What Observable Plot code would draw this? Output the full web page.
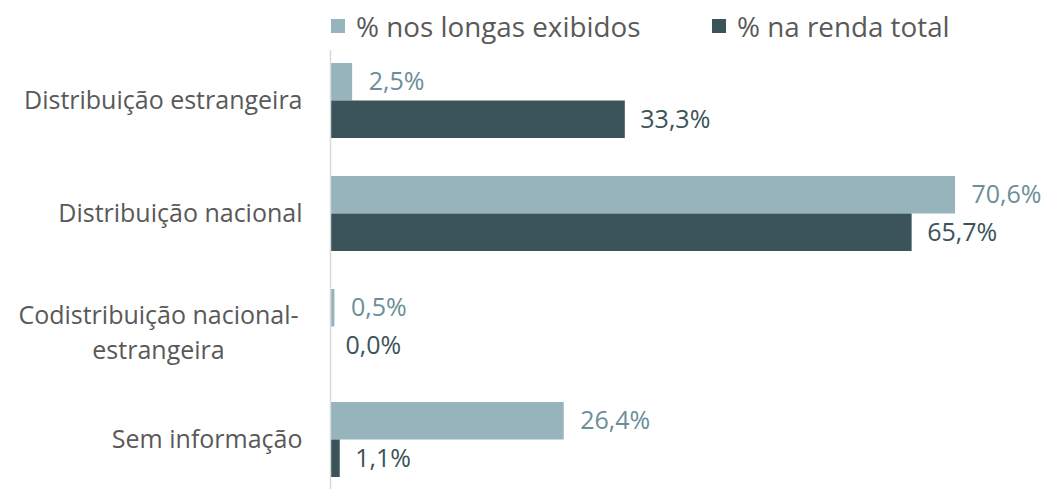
<!DOCTYPE html>
<html>
<head>
<meta charset="utf-8">
<script src="https://cdn.jsdelivr.net/npm/d3@7"></script>
<script src="https://cdn.jsdelivr.net/npm/@observablehq/plot@0.6"></script>
<style>
  html, body { margin: 0; padding: 0; background: #fff; }
  body { width: 1046px; height: 489px; overflow: hidden; font-family: "Open Sans", sans-serif; position: relative; }
  #legend { height: 48px; position: relative; color: #595959; font-size: 27.8px; }
  .item { display: flex; align-items: center; position: absolute; top: 6px; height: 40px; }
  .sw { width: 14px; height: 14px; display: inline-block; margin-right: 11px; }
  #chart svg { display: block; }
</style>
</head>
<body>
<div id="legend"></div>
<div id="chart"></div>
<script>
const categories = ["Distribuição estrangeira", "Distribuição nacional", "Codistribuição nacional-estrangeira", "Sem informação"];
const categoryLabels = ["Distribuição estrangeira", "Distribuição nacional", "Codistribuição nacional-\nestrangeira", "Sem informação"];
const seriesNames = ["% nos longas exibidos", "% na renda total"];
const longasExibidos = [2.5, 70.6, 0.5, 26.4];
const rendaTotal = [33.3, 65.7, 0.0, 1.1];
const barColors = ["#97b4bd", "#3b5459"];
const labelColors = ["#6b8f98", "#3b5459"];

const fmt = v => v.toFixed(1).replace(".", ",") + "%";

const light = categories.map((c, i) => ({category: c, value: longasExibidos[i]}));
const dark = categories.map((c, i) => ({category: c, value: rendaTotal[i]}));
const labels = categories.map((c, i) => ({category: c, label: categoryLabels[i]}));

// legend
const legendLeft = [331, 712];
const legend = document.getElementById("legend");
seriesNames.forEach((s, i) => {
  const it = document.createElement("span");
  it.className = "item";
  it.style.left = legendLeft[i] + "px";
  it.innerHTML = `<span class="sw" style="background:${barColors[i]}"></span><span>${s}</span>`;
  legend.appendChild(it);
});

const bw = 75;
const fs = 25;
const plot = Plot.plot({
  width: 1046,
  height: 441,
  marginTop: 2,
  marginBottom: 0,
  marginLeft: 0,
  marginRight: 0,
  x: {domain: [0, 80], range: [330, 330 + 80 * 8.853], axis: null},
  y: {domain: categories, range: [-4, 448], paddingInner: 0.336, paddingOuter: 0.168, axis: null},
  marks: [
    Plot.barX(light, {x: "value", y: "category", fill: barColors[0], insetBottom: bw / 2}),
    Plot.barX(dark, {x: "value", y: "category", fill: barColors[1], insetTop: bw / 2}),
    Plot.ruleX([0], {stroke: "#d9d9d9", strokeWidth: 1.5}),
    Plot.text(light, {x: "value", y: "category", text: d => fmt(d.value), dx: 16, dy: -bw / 4, textAnchor: "start", fill: labelColors[0], fontSize: fs}),
    Plot.text(dark, {x: "value", y: "category", text: d => fmt(d.value), dx: 15, dy: bw / 4, textAnchor: "start", fill: labelColors[1], fontSize: fs}),
    Plot.text(labels.filter(d => !d.label.includes("\n")), {x: 0, y: "category", text: "label", dx: -28, textAnchor: "end", fill: "#595959", fontSize: fs}),
    Plot.text(labels.filter(d => d.label.includes("\n")), {x: 0, y: "category", text: "label", dx: -172, dy: 3, textAnchor: "middle", fill: "#595959", fontSize: fs, lineHeight: 1.4})
  ]
});
plot.style.fontFamily = '"Open Sans", sans-serif';
document.getElementById("chart").appendChild(plot);
</script>
</body>
</html>
